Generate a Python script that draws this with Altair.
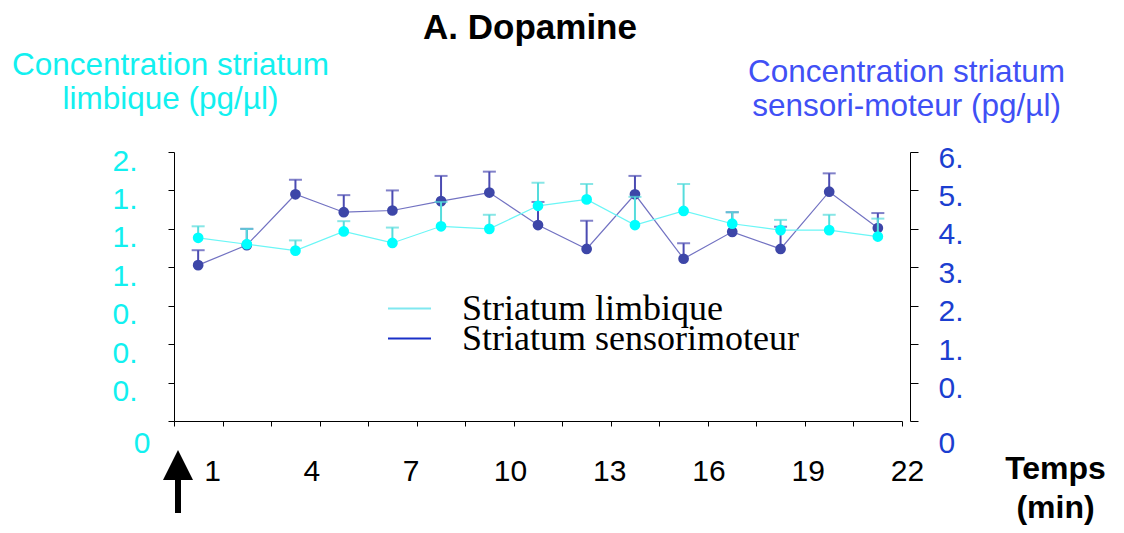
import altair as alt
import pandas as pd

# ---------------- data ----------------
time_min = [0.73, 2.2, 3.67, 5.13, 6.6, 8.07, 9.53, 11.0, 12.47, 13.93, 15.4, 16.87, 18.33, 19.8, 21.27]
limbique_mean = [1.43, 1.38, 1.33, 1.48, 1.39, 1.52, 1.50, 1.68, 1.73, 1.53, 1.64, 1.54, 1.49, 1.49, 1.44]
limbique_sem = [0.09, 0.12, 0.08, 0.08, 0.12, 0.19, 0.11, 0.18, 0.12, 0.22, 0.21, 0.09, 0.08, 0.12, 0.14]
sensori_mean = [3.65, 4.12, 5.31, 4.89, 4.93, 5.15, 5.35, 4.59, 4.03, 5.31, 3.80, 4.43, 4.03, 5.37, 4.52]
sensori_sem = [0.35, 0.38, 0.34, 0.40, 0.47, 0.59, 0.49, 0.54, 0.66, 0.43, 0.36, 0.46, 0.52, 0.43, 0.35]

left_ticks = [0, 0.3, 0.6, 0.9, 1.2, 1.5, 1.8, 2.1]
left_tick_labels = ["0", "0.", "0.", "0.", "1.", "1.", "1.", "2."]
right_ticks = [0, 0.9, 1.8, 2.7, 3.6, 4.5, 5.4, 6.3]
right_tick_labels = ["0", "0.", "1.", "2.", "3.", "4.", "5.", "6."]
x_ticks = [0, 1.47, 2.93, 4.4, 5.87, 7.33, 8.8, 10.27, 11.73, 13.2, 14.67, 16.13, 17.6, 19.07, 20.53, 22]
x_labels = [1, 4, 7, 10, 13, 16, 19, 22]
injection_time = [0]
legend_labels = ["Striatum limbique", "Striatum sensorimoteur"]

# ---------------- styling ----------------
FONT = "Liberation Sans"
CYAN_TXT = "#12f0f0"
BLUE_TITLE = "#4050f5"
BLUE_LBL = "#1b3ed0"
CYAN_PT, CYAN_LINE, CYAN_ERR = "#00ffff", "#6af6f6", "#55dcdc"
BLUE_PT, BLUE_LINE, BLUE_ERR = "#3d46a8", "#7272c2", "#4b4bb2"
LEG_CYAN, LEG_BLUE = "#80e8f0", "#1a30c8"


def label_expr(labels, step):
    arr = "[" + ",".join("'%s'" % s for s in labels) + "]"
    return arr + "[round(datum.value / %s)]" % step


df_a = pd.DataFrame({"t": time_min, "m": limbique_mean,
                     "top": [m + s for m, s in zip(limbique_mean, limbique_sem)]})
df_b = pd.DataFrame({"t": time_min, "m": sensori_mean,
                     "top": [m + s for m, s in zip(sensori_mean, sensori_sem)]})

x_scale = alt.Scale(domain=[0, 22], nice=False, zero=False)

# ---- axes ----
x_axis_ticks = alt.Axis(orient="bottom", values=x_ticks, labels=False, title=None, grid=False,
                        tickSize=5, tickColor="black", domainColor="black", tickWidth=1, domainWidth=1)
x_axis_labels = alt.Axis(orient="bottom", values=x_labels, ticks=False, tickSize=0, domain=False, grid=False,
                         labelFontSize=30, labelFont=FONT, labelColor="black", labelPadding=35,
                         labelOffset=5, labelFlush=False, labelOverlap=False, labelBound=False,
                         title=["Temps", "(min)"], titleX=881, titleY=57, titleAngle=0,
                         titleAlign="center", titleBaseline="alphabetic", titleFont=FONT,
                         titleFontSize=32, titleFontWeight="bold", titleColor="black", titleLineHeight=39)

y_axis_left = alt.Axis(orient="left", values=left_ticks, labelExpr=label_expr(left_tick_labels, 0.3),
                       grid=False, tickSize=6, tickColor="black", domainColor="black",
                       labelFont=FONT, labelFontSize=30, labelColor=CYAN_TXT,
                       labelPadding={"condition": {"test": "datum.value == 0", "value": 18}, "value": 31},
                       labelOffset={"condition": {"test": "datum.value == 0", "value": 22}, "value": 9},
                       labelOverlap=False, labelFlush=False,
                       title=["Concentration striatum", "limbique (pg/µl)"], titleAngle=0,
                       titleX=-4, titleY=-78, titleAlign="center", titleBaseline="alphabetic",
                       titleFont=FONT, titleFontSize=31.5, titleFontWeight="normal",
                       titleColor=CYAN_TXT, titleLineHeight=34)
y_axis_right = alt.Axis(orient="right", offset=8, values=right_ticks,
                        labelExpr=label_expr(right_tick_labels, 0.9),
                        grid=False, tickSize=8, tickColor="black", domainColor="black",
                        labelFont=FONT, labelFontSize=30, labelColor=BLUE_LBL, labelPadding=20,
                        labelOffset={"condition": {"test": "datum.value == 0", "value": 22}, "value": 6},
                        labelOverlap=False, labelFlush=False,
                        title=["Concentration striatum", "sensori-moteur (pg/µl)"], titleAngle=0,
                        titleX=-4, titleY=-71, titleAlign="center", titleBaseline="alphabetic",
                        titleFont=FONT, titleFontSize=31.5, titleFontWeight="normal",
                        titleColor=BLUE_TITLE, titleLineHeight=34)


def series(df, y_scale, x_axis, y_axis, pt, line, err):
    base = alt.Chart(df)
    xe = alt.X("t:Q", scale=x_scale, axis=x_axis)
    ln = base.mark_line(color=line, strokeWidth=1.2).encode(
        x=xe, y=alt.Y("m:Q", scale=y_scale, axis=y_axis))
    bar = base.mark_rule(color=err, strokeWidth=2).encode(
        x=xe, y=alt.Y("m:Q", scale=y_scale, axis=y_axis), y2="top:Q")
    cap = base.mark_tick(color=err, orient="horizontal", size=13, thickness=2).encode(
        x=xe, y=alt.Y("top:Q", scale=y_scale, axis=y_axis))
    dots = base.mark_point(filled=True, shape="circle", size=115, color=pt, opacity=1).encode(
        x=xe, y=alt.Y("m:Q", scale=y_scale, axis=y_axis))
    return [ln, bar, cap, dots]


def legend_entry(label, colour, legend_y):
    # one single-entry legend per series, so each row can be placed on its own
    return alt.Chart(pd.DataFrame({"serie": [label]})).mark_point(opacity=1).encode(
        color=alt.Color("serie:N",
                        scale=alt.Scale(domain=[label], range=[colour]),
                        legend=alt.Legend(orient="none", legendX=213, legendY=legend_y, title=None,
                                          symbolType="stroke", symbolSize=1849, symbolStrokeWidth=2,
                                          symbolOpacity=1,
                                          labelFont="Liberation Serif", labelFontSize=36,
                                          labelColor="black", labelOffset=30, labelLimit=800,
                                          padding=0))
    ).transform_filter("false")


ys_a = alt.Scale(domain=[0, 2.1], nice=False, zero=True)
ys_b = alt.Scale(domain=[0, 6.3], nice=False, zero=True)

layers_a = series(df_a, ys_a, x_axis_ticks, y_axis_left, CYAN_PT, CYAN_LINE, CYAN_ERR)
layers_b = series(df_b, ys_b, x_axis_labels, y_axis_right, BLUE_PT, BLUE_LINE, BLUE_ERR)

arrow_df = pd.DataFrame({"t": injection_time})
arrow_head = alt.Chart(arrow_df).mark_point(
    shape="M0,-1L1,1L-1,1Z", filled=True, color="black", size=900, opacity=1, xOffset=4
).encode(x=alt.X("t:Q", scale=x_scale, axis=x_axis_ticks), y=alt.value(313))
arrow_shaft = alt.Chart(arrow_df).mark_rule(color="black", strokeWidth=6, xOffset=4).encode(
    x=alt.X("t:Q", scale=x_scale, axis=x_axis_ticks), y=alt.value(326), y2=alt.value(361))

chart_a = alt.layer(*layers_a, arrow_shaft, arrow_head,
                    legend_entry(legend_labels[0], LEG_CYAN, 134))
chart_b = alt.layer(*layers_b, legend_entry(legend_labels[1], LEG_BLUE, 164))

chart = alt.layer(chart_b, chart_a).resolve_scale(
    x="independent", y="independent", color="independent"
).properties(
    width=728, height=269,
    title=alt.TitleParams("A. Dopamine", font=FONT, fontSize=35, fontWeight="bold",
                          color="black", anchor="middle", dx=-8, offset=3),
    autosize=alt.AutoSizeParams(type="none"),
    padding={"left": 166, "top": 144, "right": 214, "bottom": 106},
).configure(font=FONT).configure_view(stroke=None)

chart.save("out.html", embed_options={"renderer": "svg", "actions": False})
